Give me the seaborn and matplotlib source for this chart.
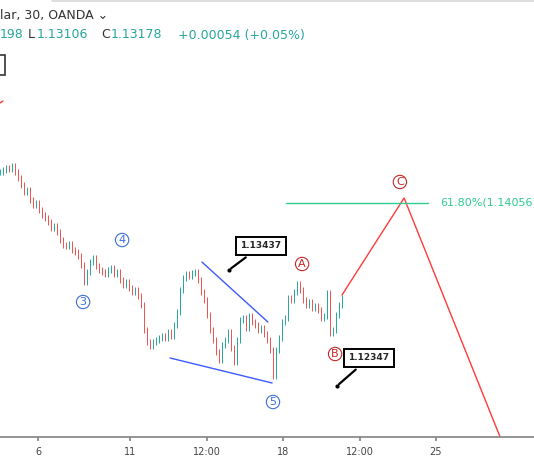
import matplotlib
matplotlib.use("Agg")
import matplotlib.pyplot as plt
import numpy as np
import pandas as pd
import seaborn as sns

# closing prices, one 30-min candle per step
closes = [1.1421, 1.1422, 1.1423, 1.14225, 1.1424, 1.1421, 1.1418, 1.14145, 1.1411, 1.1412,
          1.1407, 1.14045, 1.14055, 1.1402, 1.13995, 1.1398, 1.1396, 1.1393, 1.1394, 1.1391,
          1.1387, 1.13845, 1.1384, 1.1385, 1.1382, 1.1381, 1.1379, 1.13745, 1.1366, 1.1371,
          1.1376, 1.1378, 1.1374, 1.1372, 1.1371, 1.1370, 1.1372, 1.1373, 1.1370, 1.1371,
          1.1367, 1.13645, 1.1366, 1.1363, 1.1361, 1.1362, 1.1359, 1.13545, 1.1342, 1.1336,
          1.1334, 1.1336, 1.1337, 1.1338, 1.1339, 1.1338, 1.1341, 1.1339, 1.13445, 1.1351,
          1.1362, 1.1368, 1.1370, 1.1369, 1.13705, 1.1371, 1.1367, 1.1361, 1.1357, 1.13495,
          1.1342, 1.1337, 1.1331, 1.1327, 1.13345, 1.1337, 1.1341, 1.1333, 1.1326, 1.1337,
          1.1347, 1.1348, 1.1343, 1.1349, 1.1346, 1.13445, 1.1342, 1.1343, 1.1340, 1.1337,
          1.1332, 1.1319, 1.1332, 1.1338, 1.1346, 1.1348, 1.1358, 1.1357, 1.1361, 1.1365,
          1.1362, 1.1357, 1.13545, 1.1356, 1.1353, 1.1354, 1.1352, 1.1348, 1.1349, 1.13605,
          1.13405, 1.1342, 1.13495, 1.13545, 1.1358]

tick_pos = [12.7, 43.3, 69.0, 94.3, 120.0, 145.3]
tick_labels = ["6", "11", "12:00", "18", "12:00", "25"]

wedge_low_x, wedge_low_y = [56.7, 90.7], [1.1328, 1.13155]
wedge_high_x, wedge_high_y = [67.3, 89.3], [1.1376, 1.1346]
proj_x, proj_y = [114.0, 134.7, 166.7], [1.13595, 1.1408, 1.12885]
fib_x, fib_level = [95.3, 142.7], 1.14056

wave_labels = ["3", "4", "5"]
wave_x = [27.7, 40.7, 91.0]
wave_y = [1.1356, 1.1387, 1.1306]
abc_labels = ["A", "B", "C"]
abc_x = [100.7, 111.7, 133.3]
abc_y = [1.1375, 1.1330, 1.1416]

sns.set_theme(style="white")
plt.rcParams["font.family"] = ["DejaVu Sans"]

fig = plt.figure(figsize=(5.34, 4.62), dpi=100)
ax = fig.add_axes([0, 25 / 462, 1, 437 / 462])

c = np.array(closes)
o = np.r_[c[0], c[:-1]]
idx = np.arange(len(c))
up = c >= o
green, red = "#26a69a", "#ef5350"
cols = np.where(up, green, red)
ax.vlines(idx, np.minimum(o, c) - 0.00015, np.maximum(o, c) + 0.00015, colors=cols, linewidth=0.7)
ax.bar(idx, np.maximum(np.abs(c - o), 0.00003), bottom=np.minimum(o, c), width=0.8, color=cols)

blue = "#3d5afe"
sns.lineplot(x=wedge_low_x, y=wedge_low_y, ax=ax, color=blue, linewidth=1)
sns.lineplot(x=wedge_high_x, y=wedge_high_y, ax=ax, color=blue, linewidth=1)
sns.lineplot(x=proj_x, y=proj_y, ax=ax, color="#ff3b3b", linewidth=1, sort=False)
ax.plot(fib_x, [fib_level, fib_level], color="#2ecc8f", linewidth=1)
ax.text(fib_x[1] + 4, fib_level, f"61.80%({fib_level:.5f})", color="#2ecc8f",
        fontsize=8, va="center", clip_on=False)

for lab, x, y in zip(wave_labels, wave_x, wave_y):
    ax.text(x, y, lab, ha="center", va="center", fontsize=8, color="#3a6fd8",
            bbox=dict(boxstyle="circle,pad=0.15", fc="white", ec="#3a6fd8", lw=0.8))
for lab, x, y in zip(abc_labels, abc_x, abc_y):
    ax.text(x, y, lab, ha="center", va="center", fontsize=8, color="#c62828",
            bbox=dict(boxstyle="circle,pad=0.15", fc="white", ec="#c62828", lw=0.8))

for txt, (bx, by), (px, py) in [("1.13437", (87.0, 1.1384), (76.3, 1.1372)),
                                 ("1.12347", (123.0, 1.1328), (112.3, 1.1314))]:
    ax.annotate(txt, xy=(px, py), xytext=(bx, by), fontsize=6.5, weight="bold",
                ha="center", va="center",
                bbox=dict(boxstyle="square,pad=0.5", fc="white", ec="black", lw=1.4),
                arrowprops=dict(arrowstyle="-", color="black", lw=1.6))
    ax.plot(px, py, "o", color="black", markersize=2)

ax.set_xlim(0, 178)
ax.set_ylim(1.1507 - 437 * 0.00005, 1.1507)
ax.set_xticks(tick_pos)
ax.set_xticklabels(tick_labels, fontsize=7, color="#444444")
ax.set_yticks([])
ax.tick_params(axis="x", length=3, color="#888888", pad=4, bottom=True)
for s in ["top", "left", "right"]:
    ax.spines[s].set_visible(False)
ax.spines["bottom"].set_color("#888888")

# header
fig.text(0, 1 - 16 / 462, "lar, 30, OANDA \u2304", fontsize=9, color="#333333", va="center")
fig.text(0, 1 - 35 / 462, "198", fontsize=9, color=green, va="center")
fig.text(28 / 534, 1 - 35 / 462, "L", fontsize=9, color="#333333", va="center")
fig.text(37 / 534, 1 - 35 / 462, "1.13106", fontsize=9, color=green, va="center")
fig.text(101 / 534, 1 - 35 / 462, "C", fontsize=9, color="#333333", va="center")
fig.text(111 / 534, 1 - 35 / 462, "1.13178", fontsize=9, color=green, va="center")
fig.text(178 / 534, 1 - 35 / 462, "+0.00054 (+0.05%)", fontsize=9, color=green, va="center")
fig.patches.append(plt.Rectangle((-4 / 534, 1 - 75 / 462), 9 / 534, 20 / 462,
                                 transform=fig.transFigure, fill=False, ec="#333333", lw=1.2))
fig.lines.append(plt.Line2D([0, 3 / 534], [1 - 103 / 462, 1 - 101 / 462],
                            transform=fig.transFigure, color="#ff3b3b", lw=1))
fig.lines.append(plt.Line2D([52 / 534, 534 / 534], [1, 1], transform=fig.transFigure,
                            color="#dddddd", lw=2))

fig.savefig("out.png", dpi=100)
